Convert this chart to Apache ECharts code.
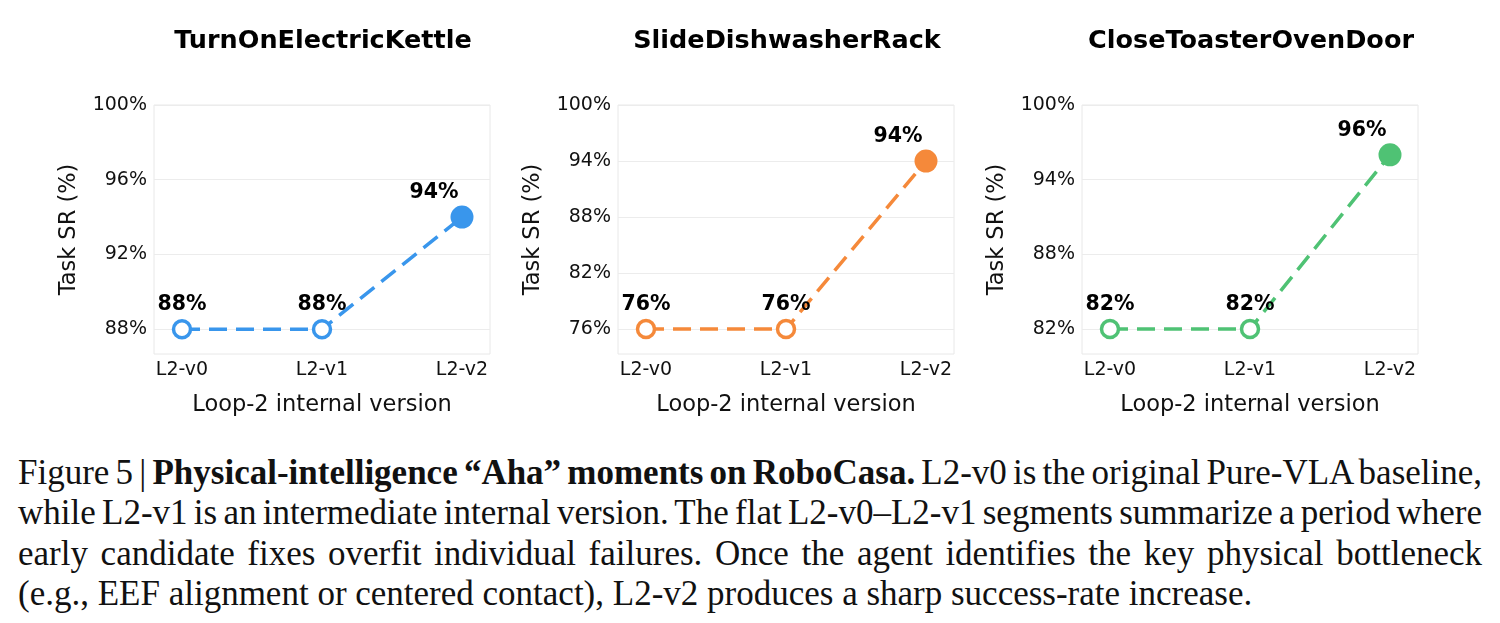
<!DOCTYPE html>
<html>
<head>
<meta charset="utf-8">
<script src="https://cdn.jsdelivr.net/npm/echarts@6/dist/echarts.min.js"></script>
<style>
  html, body { margin: 0; padding: 0; background: #fff; }
  #wrap { position: relative; width: 1500px; height: 623px; overflow: hidden; }
  #chart { position: absolute; left: 0; top: 0; width: 1500px; height: 440px; }
  #caption {
    position: absolute; left: 18px; top: 453px; width: 1464px;
    font-family: "Liberation Serif", "DejaVu Serif", serif;
    font-size: 35px; line-height: 40.3px; color: #111;
  }
  #caption .ln { text-align: justify; text-align-last: justify; white-space: nowrap; word-spacing: -4.5px; }
  #caption .ln.last { text-align-last: left; word-spacing: 0; }
</style>
</head>
<body>
<div id="wrap">
  <div id="chart"></div>
  <div id="caption">
    <div class="ln">Figure 5 | <b>Physical-intelligence “Aha” moments on RoboCasa.</b> L2-v0 is the original Pure-VLA baseline,</div>
    <div class="ln">while L2-v1 is an intermediate internal version. The flat L2-v0–L2-v1 segments summarize a period where</div>
    <div class="ln">early candidate fixes overfit individual failures. Once the agent identifies the key physical bottleneck</div>
    <div class="ln last">(e.g., EEF alignment or centered contact), L2-v2 produces a sharp success-rate increase.</div>
  </div>
</div>
<script>
// 数据
const versions = ['L2-v0', 'L2-v1', 'L2-v2'];
const taskNames = ['TurnOnElectricKettle', 'SlideDishwasherRack', 'CloseToasterOvenDoor'];
const kettleSR = [88, 88, 94];
const dishwasherSR = [76, 76, 94];
const toasterSR = [82, 82, 96];
const kettleTicks = [88, 92, 96, 100];
const dishwasherTicks = [76, 82, 88, 94, 100];
const toasterTicks = [82, 88, 94, 100];
const yMins = [86.67, 73.33, 80];
const yMax = 100;

const colors = ['#3996ec', '#f5893a', '#4fc274'];
const panels = [
    { sr: kettleSR, ticks: kettleTicks },
    { sr: dishwasherSR, ticks: dishwasherTicks },
    { sr: toasterSR, ticks: toasterTicks }
];
const gridLefts = [154, 618, 1082];
const gridW = 336;

const font = 'DejaVu Sans';
const chart = echarts.init(document.getElementById('chart'));

const option = {
    animation: false,
    title: [],
    grid: [],
    xAxis: [],
    yAxis: [],
    series: []
};

panels.forEach((p, i) => {
    option.title.push({
        text: taskNames[i],
        left: gridLefts[i] + gridW / 2 - 4,
        top: 23,
        textAlign: 'center',
        textStyle: { fontFamily: font, fontWeight: 'bold', fontSize: 25.5, color: '#000' }
    });
    option.grid.push({
        left: gridLefts[i], top: 105, width: gridW, height: 249,
        show: true, borderColor: '#e8e8e8', borderWidth: 1, backgroundColor: '#fff'
    });
    option.xAxis.push({
        type: 'value', gridIndex: i, min: -0.2, max: 2.2,
        name: 'Loop-2 internal version', nameLocation: 'middle', nameGap: 40,
        nameTextStyle: { fontFamily: font, fontSize: 22.5, color: '#111' },
        axisLine: { show: false },
        axisTick: { show: false, customValues: [0, 1, 2] },
        splitLine: { show: false },
        axisLabel: {
            customValues: [0, 1, 2], margin: 7,
            fontFamily: font, fontSize: 19, color: '#111',
            formatter: v => versions[Math.round(v)]
        }
    });
    option.yAxis.push({
        type: 'value', gridIndex: i, min: yMins[i], max: yMax,
        name: 'Task SR (%)', nameLocation: 'middle', nameGap: 73,
        nameTextStyle: { fontFamily: font, fontSize: 22.5, color: '#111' },
        axisLine: { show: false },
        axisTick: { show: false, customValues: p.ticks },
        splitLine: { show: true, lineStyle: { color: '#ececec', width: 1 } },
        axisLabel: {
            customValues: p.ticks, margin: 7,
            fontFamily: font, fontSize: 19, color: '#111',
            formatter: v => Math.round(v) + '%'
        }
    });
    option.series.push({
        type: 'line', xAxisIndex: i, yAxisIndex: i,
        data: p.sr.map((v, k) => {
            const item = { value: [k, v] };
            if (k === p.sr.length - 1) {
                item.symbolSize = 23;
                item.itemStyle = { color: colors[i], borderColor: colors[i], borderWidth: 0 };
                item.label = { distance: 2, offset: [-28, 0] };
            }
            return item;
        }),
        symbol: 'circle', symbolSize: 17,
        itemStyle: { color: '#fff', borderColor: colors[i], borderWidth: 3.5 },
        lineStyle: { color: colors[i], width: 3.5, type: [18, 9] },
        label: {
            show: true, position: 'top', distance: 4,
            fontFamily: font, fontWeight: 'bold', fontSize: 20.5, color: '#000',
            formatter: d => d.value[1] + '%'
        },
        z: 3
    });
});

chart.setOption(option);
</script>
</body>
</html>
